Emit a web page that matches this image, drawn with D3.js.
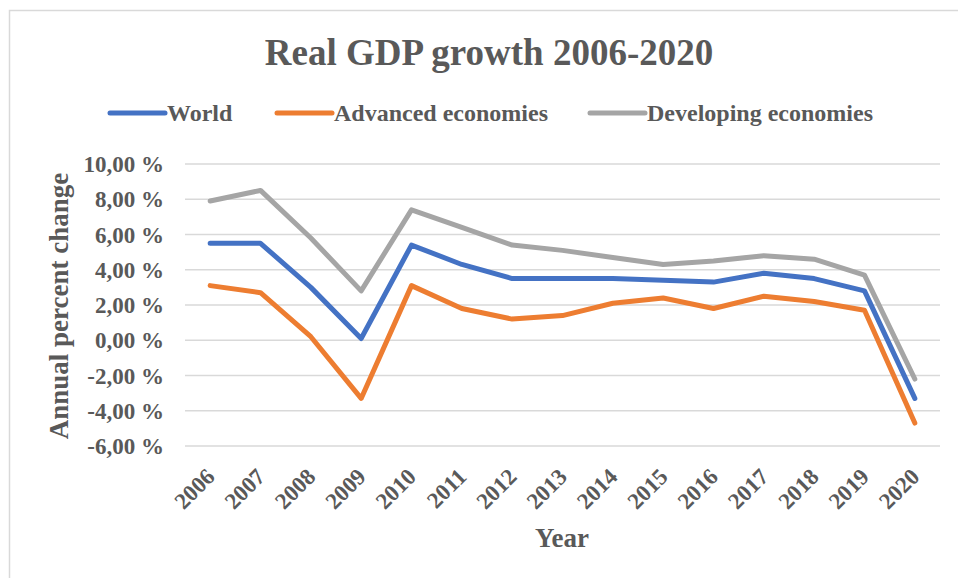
<!DOCTYPE html>
<html lang="en">
<head>
	<meta charset="UTF-8">
	<title>Real GDP growth 2006-2020</title>
	<script type="text/javascript" src="https://cdnjs.cloudflare.com/ajax/libs/d3/7.8.5/d3.min.js"></script>
	<style>
		body { margin: 0; background: #fff; }
		text { font-family: "Liberation Serif", "Times New Roman", serif; font-weight: bold; fill: #595959; }
	</style>
</head>
<body>
<script type="text/javascript">
	var years = ['2006', '2007', '2008', '2009', '2010', '2011', '2012', '2013', '2014', '2015', '2016', '2017', '2018', '2019', '2020'];
	var world = [5.5, 5.5, 3.0, 0.1, 5.4, 4.3, 3.5, 3.5, 3.5, 3.4, 3.3, 3.8, 3.5, 2.8, -3.3];
	var advanced = [3.1, 2.7, 0.2, -3.3, 3.1, 1.8, 1.2, 1.4, 2.1, 2.4, 1.8, 2.5, 2.2, 1.7, -4.7];
	var developing = [7.9, 8.5, 5.8, 2.8, 7.4, 6.4, 5.4, 5.1, 4.7, 4.3, 4.5, 4.8, 4.6, 3.7, -2.2];
	var yTicks = [-6, -4, -2, 0, 2, 4, 6, 8, 10];

	var series = [
		{name: 'World', values: world, color: '#4472C4'},
		{name: 'Advanced economies', values: advanced, color: '#ED7D31'},
		{name: 'Developing economies', values: developing, color: '#A5A5A5'}
	];

	var width = 958, height = 578;

	var svg = d3.select('body')
		.append('svg')
		.attr('width', width)
		.attr('height', height);

	// chart border (only top and left visible in the frame)
	svg.append('rect')
		.attr('x', 9.5).attr('y', 10.5)
		.attr('width', 1000).attr('height', 600)
		.attr('fill', 'none')
		.attr('stroke', '#d9d9d9')
		.attr('stroke-width', 1.5);

	var x = d3.scaleBand()
		.domain(years)
		.range([185, 940]);

	var y = d3.scaleLinear()
		.domain([-6, 10])
		.range([446, 164]);

	// gridlines
	svg.append('g')
		.selectAll('line')
		.data(yTicks)
		.enter().append('line')
		.attr('x1', 185).attr('x2', 940)
		.attr('y1', function (d) { return y(d); })
		.attr('y2', function (d) { return y(d); })
		.attr('stroke', '#d9d9d9')
		.attr('stroke-width', 1.5);

	// y tick labels
	svg.append('g')
		.selectAll('text')
		.data(yTicks)
		.enter().append('text')
		.attr('x', 164)
		.attr('y', function (d) { return y(d); })
		.attr('dy', '0.35em')
		.attr('text-anchor', 'end')
		.style('font-size', '23px')
		.text(function (d) { return d3.format('.2f')(d).replace('.', ',').replace('−', '-') + ' %'; });

	// x tick labels
	svg.append('g')
		.selectAll('text')
		.data(years)
		.enter().append('text')
		.attr('transform', function (d) {
			return 'translate(' + (x(d) + x.bandwidth() / 2 + 6) + ',478) rotate(-45)';
		})
		.attr('text-anchor', 'end')
		.style('font-size', '23px')
		.text(function (d) { return d; });

	var line = d3.line()
		.x(function (d, i) { return x(years[i]) + x.bandwidth() / 2; })
		.y(function (d) { return y(d); });

	svg.append('g')
		.selectAll('path')
		.data(series)
		.enter().append('path')
		.attr('d', function (d) { return line(d.values); })
		.attr('fill', 'none')
		.attr('stroke', function (d) { return d.color; })
		.attr('stroke-width', 5)
		.attr('stroke-linejoin', 'round')
		.attr('stroke-linecap', 'round');

	// title
	svg.append('text')
		.attr('x', 489).attr('y', 65)
		.attr('text-anchor', 'middle')
		.style('font-size', '37px')
		.text('Real GDP growth 2006-2020');

	// legend
	var legendX = [110, 277, 590];
	var legend = svg.append('g')
		.selectAll('g')
		.data(series)
		.enter().append('g')
		.attr('transform', function (d, i) { return 'translate(' + legendX[i] + ',113)'; });

	legend.append('line')
		.attr('x1', 0).attr('x2', 55)
		.attr('stroke', function (d) { return d.color; })
		.attr('stroke-width', 5)
		.attr('stroke-linecap', 'round');

	legend.append('text')
		.attr('x', 57).attr('y', 8)
		.style('font-size', '24px')
		.text(function (d) { return d.name; });

	// axis titles
	svg.append('text')
		.attr('transform', 'translate(68,306) rotate(-90)')
		.attr('text-anchor', 'middle')
		.style('font-size', '27px')
		.text('Annual percent change');

	svg.append('text')
		.attr('x', 562).attr('y', 547)
		.attr('text-anchor', 'middle')
		.style('font-size', '27px')
		.text('Year');
</script>
</body>
</html>
